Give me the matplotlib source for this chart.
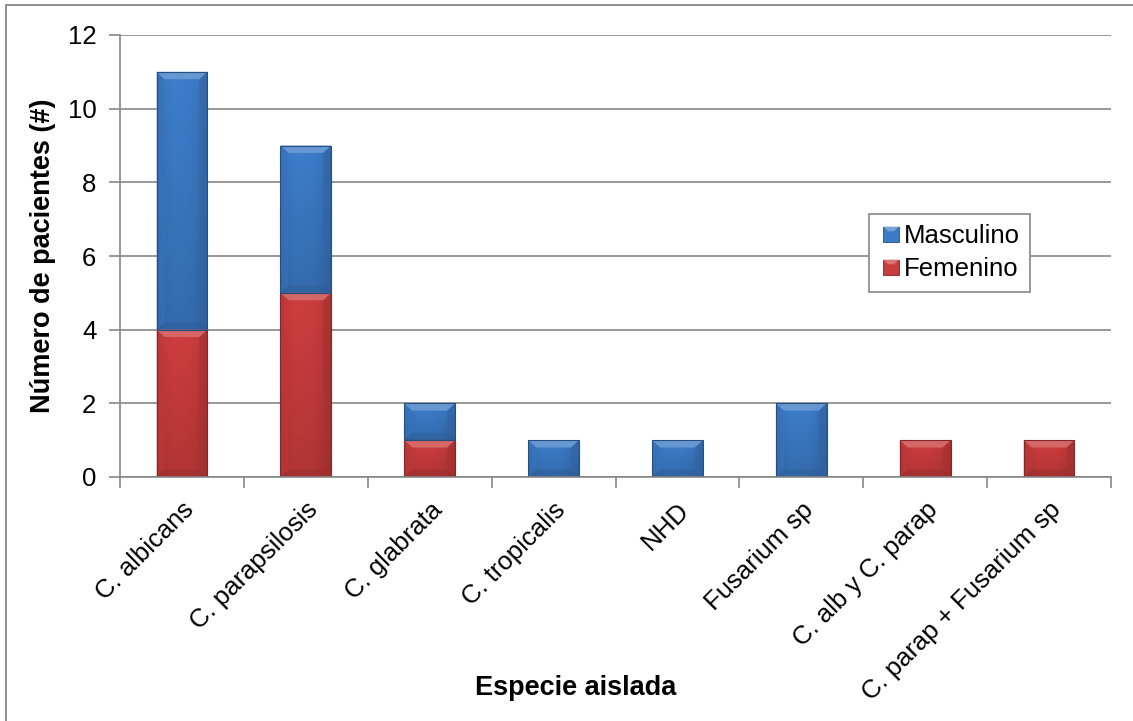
import numpy as np
import matplotlib.pyplot as plt
from matplotlib.colors import to_rgb
from matplotlib.patches import Polygon, Rectangle
from matplotlib.legend_handler import HandlerBase

plt.rcParams['font.family'] = ['Liberation Sans', 'DejaVu Sans']

# Pacientes por especie aislada y sexo
especies = ['C. albicans', 'C. parapsilosis', 'C. glabrata', 'C. tropicalis',
            'NHD', 'Fusarium sp', 'C. alb y C. parap', 'C. parap + Fusarium sp']
femenino = [4, 5, 1, 0, 0, 0, 1, 1]
masculino = [7, 4, 1, 1, 1, 2, 0, 0]

azul = '#3b7ac5'
rojo = '#c93c3c'
gris = '#878787'


def mezcla(c, otro, f):
    c = np.array(to_rgb(c))
    return tuple(c + (np.array(to_rgb(otro)) - c) * f)


def pintar_segmento(ax, patch, base):
    """Relleno con degradado y bisel superior al estilo Excel."""
    x0, y0 = patch.get_x(), patch.get_y()
    w, h = patch.get_width(), patch.get_height()
    if h <= 0:
        return
    t = np.linspace(0, 1, 60)
    horiz = 1.0 - 0.16 * np.abs(2 * t - 1) ** 3 + 0.05 * (1 - t)
    vert = np.linspace(0.86, 1.0, 80)[:, None]
    img = np.array(to_rgb(base))[None, None, :] * (horiz[None, :, None] * vert[:, :, None])
    img = np.clip(img, 0, 1)
    im = ax.imshow(img, extent=(x0, x0 + w, y0, y0 + h), origin='lower',
                   aspect='auto', zorder=2.1, interpolation='bilinear')
    im.set_clip_path(patch)

    # bisel superior
    dx, dy = 0.065, 0.2
    bisel = Polygon([(x0, y0 + h), (x0 + w, y0 + h), (x0 + w - dx, y0 + h - dy),
                     (x0 + dx, y0 + h - dy)], closed=True,
                    facecolor=mezcla(base, 'white', 0.22), edgecolor='none', zorder=2.2)
    ax.add_patch(bisel)
    # laterales y base del bisel
    for pts, f in [([(x0, y0 + h), (x0 + dx, y0 + h - dy), (x0 + dx, y0 + dy), (x0, y0)], 0.04),
                   ([(x0 + w, y0 + h), (x0 + w - dx, y0 + h - dy), (x0 + w - dx, y0 + dy), (x0 + w, y0)], 0.16),
                   ([(x0, y0), (x0 + w, y0), (x0 + w - dx, y0 + dy), (x0 + dx, y0 + dy)], 0.22)]:
        ax.add_patch(Polygon(pts, closed=True, facecolor=mezcla(base, 'black', f),
                             edgecolor='none', zorder=2.15, alpha=0.55))
    ax.add_patch(Rectangle((x0, y0), w, h, facecolor='none',
                           edgecolor=mezcla(base, 'black', 0.35), lw=0.8, zorder=2.3))


class HandlerBisel(HandlerBase):
    def create_artists(self, legend, orig_handle, xdescent, ydescent, width, height, fontsize, trans):
        base = to_rgb(orig_handle.get_facecolor())
        s = height * 0.85
        x0 = xdescent + width - s
        y0 = -ydescent + (height - s) / 2
        d = s * 0.3
        cuadro = Rectangle((x0, y0), s, s, facecolor=base,
                           edgecolor=mezcla(base, 'black', 0.35), lw=0.6, transform=trans)
        tapa = Polygon([(x0, y0 + s), (x0 + s, y0 + s), (x0 + s - d, y0 + s - d), (x0 + d, y0 + s - d)],
                       closed=True, facecolor=mezcla(base, 'white', 0.3), edgecolor='none',
                       transform=trans)
        return [cuadro, tapa]


fig = plt.figure(figsize=(11.33, 7.21), dpi=100)
W, H = 1133, 721
ax = fig.add_axes([120 / W, (H - 477) / H, (1111 - 120) / W, (477 - 35) / H])

# marco exterior del gráfico
fig.patches.append(Rectangle((6 / W, -0.02), 1.02, 1 - 5 / H + 0.02, transform=fig.transFigure,
                             facecolor='none', edgecolor=gris, lw=1.3))

x = np.arange(len(especies))
ancho = 0.41
barras_f = ax.bar(x, femenino, ancho, color=rojo, edgecolor='none', zorder=2, label='Femenino')
barras_m = ax.bar(x, masculino, ancho, bottom=femenino, color=azul, edgecolor='none', zorder=2,
                  label='Masculino')
for p in barras_f.patches:
    pintar_segmento(ax, p, rojo)
for p in barras_m.patches:
    pintar_segmento(ax, p, azul)

ax.set_xlim(-0.5, len(especies) - 0.5)
ax.set_ylim(0, 12)
ax.set_yticks(np.arange(0, 13, 2))
ax.yaxis.grid(True, color=gris, lw=1.2)
ax.set_axisbelow(True)

ax.set_xticks(x)
ax.set_xticklabels(especies, rotation=45, ha='right', rotation_mode='anchor', fontsize=18.5)
ax.set_xticks(np.arange(-0.5, len(especies)), minor=True)
ax.tick_params(axis='x', which='major', length=0, pad=15)
ax.tick_params(axis='x', which='minor', length=8, width=1.2, color=gris, direction='out')
ax.tick_params(axis='y', length=8, width=1.2, color=gris, labelsize=18.5, pad=9)

for lado in ['top', 'right']:
    ax.spines[lado].set_visible(False)
for lado in ['left', 'bottom']:
    ax.spines[lado].set_color(gris)
    ax.spines[lado].set_linewidth(1.2)

ax.set_ylabel('Número de pacientes (#)', fontsize=19.5, fontweight='bold', va='center')
ax.yaxis.set_label_coords(-0.078, 0.5)
ax.set_xlabel('Especie aislada', fontsize=19.5, fontweight='bold', va='center')
ax.xaxis.set_label_coords(0.46, -0.477)

handles = [barras_m.patches[0], barras_f.patches[0]]
leg = ax.legend(handles=handles, labels=['Masculino', 'Femenino'],
                loc='upper left', bbox_to_anchor=(0.756, 0.595), borderaxespad=0,
                fontsize=18.5, fancybox=False, edgecolor=gris, framealpha=1,
                handlelength=0.75, handletextpad=0.2, borderpad=0.4, labelspacing=0.35,
                handler_map={Rectangle: HandlerBisel()})
leg.get_frame().set_linewidth(1.2)

fig.savefig('out.png', dpi=100)
